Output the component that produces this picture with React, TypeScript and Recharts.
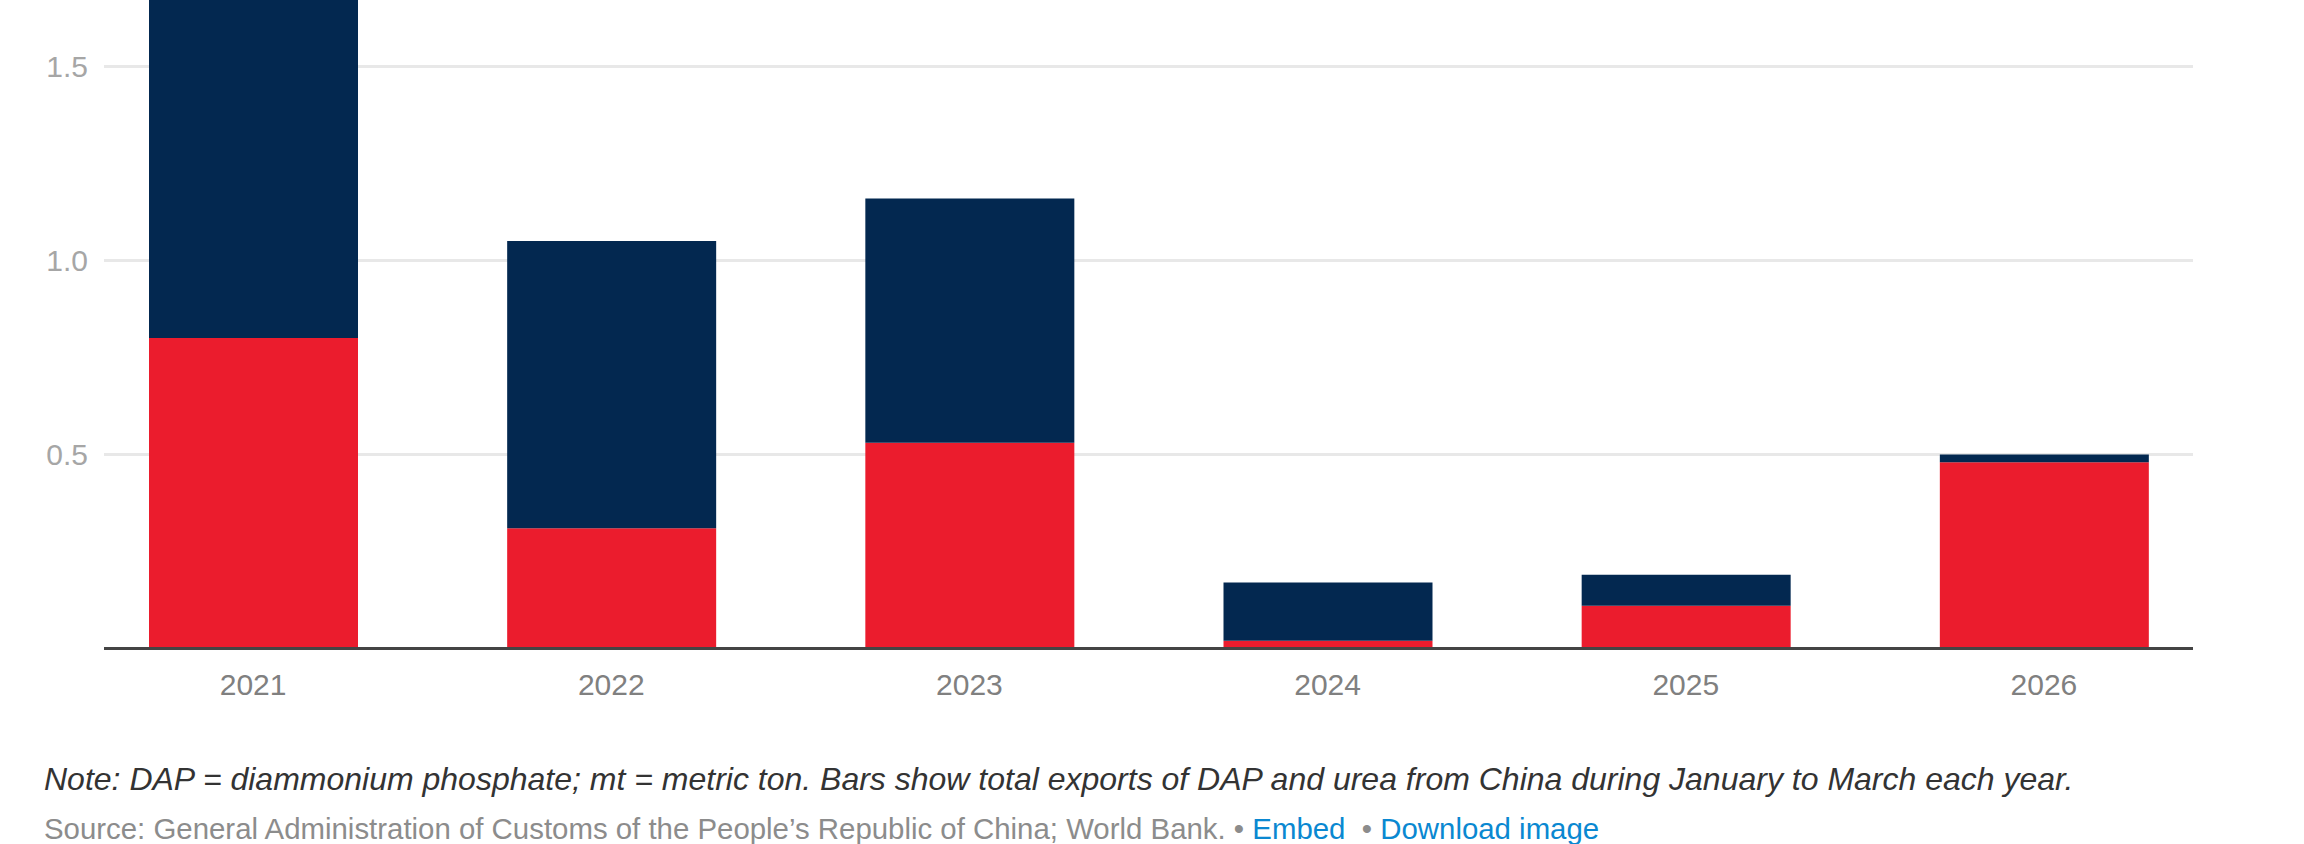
import React from 'react';
import { BarChart, Bar, XAxis, YAxis, CartesianGrid } from 'recharts';

const years = ['2021', '2022', '2023', '2024', '2025', '2026'];
const ureaExports = [0.8, 0.31, 0.53, 0.02, 0.11, 0.48];
const dapExports = [1.1, 0.74, 0.63, 0.15, 0.08, 0.02];
const yTicks = [0, 0.5, 1.0, 1.5];

const noteText =
  'Note: DAP = diammonium phosphate; mt = metric ton. Bars show total exports of DAP and urea from China during January to March each year.';
const sourceText =
  "Source: General Administration of Customs of the People\u2019s Republic of China; World Bank. \u2022 ";

const data = years.map((y, i) => ({ year: y, urea: ureaExports[i], dap: dapExports[i] }));

const FONT = '"Liberation Sans", Arial, Helvetica, sans-serif';

export default function App() {
  return (
    <div style={{ position: 'relative', width: 2304, height: 844, overflow: 'hidden', background: '#fff', fontFamily: FONT }}>
      <style>{'body{margin:0;}'}</style>
      <div style={{ position: 'absolute', top: -200, left: 0 }}>
        <BarChart
          width={2304}
          height={1000}
          data={data}
          margin={{ top: 72.5, right: 111, bottom: 91.5, left: 0 }}
          barSize={209}
        >
          <CartesianGrid vertical={false} stroke="#e8e8e8" strokeWidth={3} />
          <XAxis
            dataKey="year"
            padding={{ left: -30, right: -30 }}
            axisLine={{ stroke: '#444', strokeWidth: 3 }}
            tickLine={false}
            tickMargin={19}
            height={60}
            tick={{ fill: '#808080', fontSize: 30, fontFamily: FONT }}
          />
          <YAxis
            domain={[0, 2]}
            ticks={yTicks}
            width={104}
            axisLine={false}
            tickLine={false}
            tickMargin={10}
            tickFormatter={(v: number) => (v === 0 ? '' : v.toFixed(1))}
            tick={{ fill: '#a6a6a6', fontSize: 30, fontFamily: FONT }}
          />
          <Bar dataKey="urea" name="Urea" stackId="a" fill="#eb1c2d" isAnimationActive={false} />
          <Bar dataKey="dap" name="DAP" stackId="a" fill="#032850" isAnimationActive={false} />
        </BarChart>
      </div>
      <div
        style={{
          position: 'absolute',
          left: 44,
          top: 759,
          fontSize: 32,
          fontStyle: 'italic',
          color: '#333',
          whiteSpace: 'pre',
          lineHeight: '40px',
        }}
      >
        {noteText}
      </div>
      <div
        style={{
          position: 'absolute',
          left: 44,
          top: 809,
          fontSize: 29.4,
          color: '#8c8c8c',
          whiteSpace: 'pre',
          lineHeight: '40px',
        }}
      >
        {sourceText}
        <span style={{ color: '#0a88d1' }}>Embed</span>
        {'  \u2022 '}
        <span style={{ color: '#0a88d1' }}>Download image</span>
      </div>
    </div>
  );
}
